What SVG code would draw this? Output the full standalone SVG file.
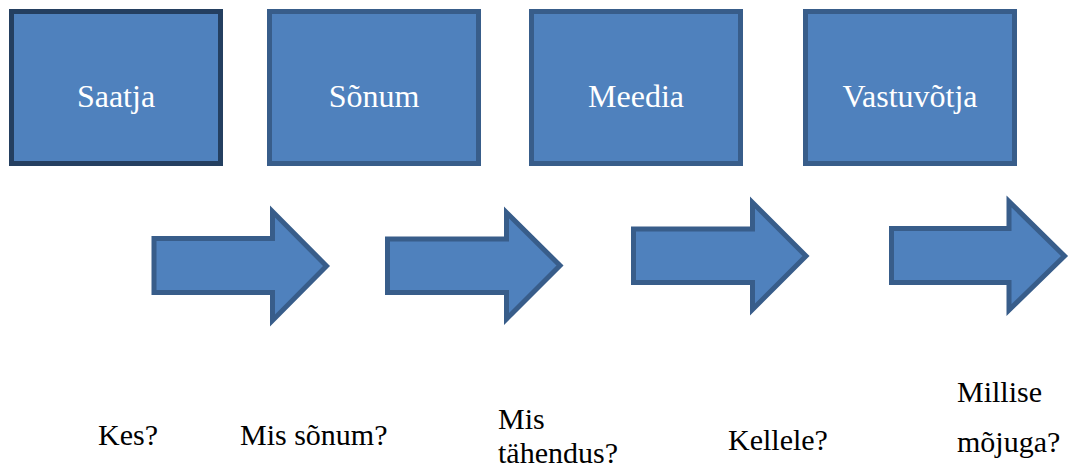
<svg xmlns="http://www.w3.org/2000/svg" width="1079" height="470" viewBox="0 0 1079 470">
<style>
.box{fill:#4F81BD;stroke:#385D8A;stroke-width:5}
.dark{stroke:#243F60}
.arr{fill:#4F81BD;stroke:#385D8A;stroke-width:5;stroke-linejoin:miter}
.lbl{font-size:32px;fill:#FFFFFF;text-anchor:middle}
.q{font-size:30px;fill:#000000}
</style>
<rect width="1079" height="470" fill="#FFFFFF"/>
<g font-family="'Liberation Serif', 'DejaVu Serif', serif">
<g id="saatja">
<rect class="box dark" x="11.5" y="11.5" width="209" height="152"/>
<text class="lbl" x="116" y="107">Saatja</text>
</g>
<g id="sonum">
<rect class="box" x="269.5" y="11.5" width="209" height="152"/>
<text class="lbl" x="374" y="107">Sõnum</text>
</g>
<g id="meedia">
<rect class="box" x="531.5" y="11.5" width="209" height="152"/>
<text class="lbl" x="636" y="107">Meedia</text>
</g>
<g id="vastuvotja">
<rect class="box" x="805.5" y="11.5" width="209" height="152"/>
<text class="lbl" x="910" y="107">Vastuvõtja</text>
</g>
<g id="connectors">
<path class="arr dark" d="M154,238.5 H272.5 V211.5 L326.5,266 L272.5,320.5 V292.5 H154 Z"/>
<path class="arr" d="M387.5,239 H506.5 V212.5 L560,265.5 L506.5,319 V292.5 H387.5 Z"/>
<path class="arr" d="M633.5,229 H752.5 V202.5 L806,256 L752.5,309.5 V282.5 H633.5 Z"/>
<path class="arr" d="M891.5,228.5 H1009 V201.5 L1064.5,256 L1009,310 V282.5 H891.5 Z"/>
</g>
<g id="labels">
<text class="q" x="98" y="445">Kes?</text>
<text class="q" x="240" y="445">Mis sõnum?</text>
<text class="q" x="498" y="429">Mis</text>
<text class="q" x="498" y="463">tähendus?</text>
<text class="q" x="728" y="450">Kellele?</text>
<text class="q" x="957" y="402">Millise</text>
<text class="q" x="957" y="452">mõjuga?</text>
</g>
</g>
</svg>
